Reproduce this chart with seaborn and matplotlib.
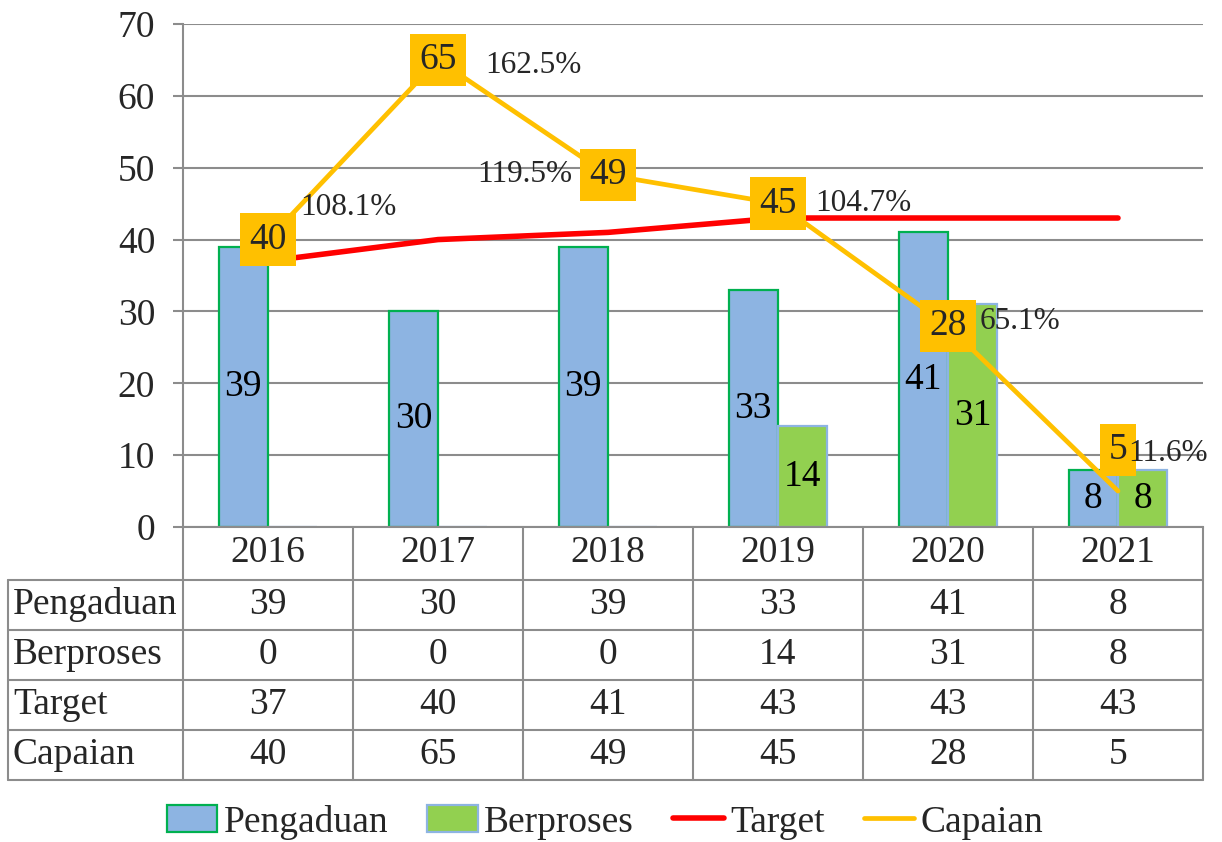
import seaborn as sns
import pandas as pd
import numpy as np
import matplotlib
matplotlib.use("Agg")
import matplotlib.pyplot as plt
from matplotlib.lines import Line2D
from matplotlib.patches import Patch
import matplotlib.transforms as mtransforms

# data
years = ["2016", "2017", "2018", "2019", "2020", "2021"]
pengaduan = [39, 30, 39, 33, 41, 8]
berproses = [0, 0, 0, 14, 31, 8]
target = [37, 40, 41, 43, 43, 43]
capaian = [40, 65, 49, 45, 28, 5]
series_names = ["Pengaduan", "Berproses", "Target", "Capaian"]

# styling
c_peng = "#8DB4E2"
c_berp = "#92D050"
c_edge = "#00B050"
c_target = "#FF0000"
c_capaian = "#FFC000"
c_grid = "#8C8C8C"
fs = 27
fs_pct = 22.5

# label offsets in pixels (dx, dy) for the capaian boxes and percentage labels
box_off = [(0, 0), (0, 0), (0, 0), (0, 0), (0, 0), (0, 41)]
pct_off = [(32, 32, "left"), (47, -6, "left"), (-36, 0, "right"),
           (37, 0, "left"), (32, 4, "left"), (10, 38, "left")]

sns.set_theme(style="white")
plt.rcParams['font.family'] = ['Liberation Serif', 'DejaVu Serif']

W, H = 1222, 842
fig = plt.figure(figsize=(W / 100, H / 100), dpi=100)


def fx(px):
    return px / W


def fy(py):
    return 1 - py / H


ax = fig.add_axes([fx(183), fy(527), fx(1203) - fx(183), fy(24) - fy(527)])

df = pd.DataFrame({
    "Tahun": years * 2,
    "Kategori": ["Pengaduan"] * 6 + ["Berproses"] * 6,
    "Nilai": pengaduan + berproses,
})
sns.barplot(data=df, x="Tahun", y="Nilai", hue="Kategori", palette=[c_peng, c_berp],
            width=0.58, ax=ax, legend=False, saturation=1, zorder=2)

edges = [c_edge, c_peng]
for cont, ec, vals in zip(ax.containers, edges, [pengaduan, berproses]):
    for p in cont.patches:
        p.set_edgecolor(ec)
        p.set_linewidth(1.6)
    ax.bar_label(cont, labels=[str(v) if v else "" for v in vals], label_type="center",
                 fontsize=fs, color="black")

x = np.arange(len(years))
sns.lineplot(x=x, y=target, color=c_target, linewidth=4.0, ax=ax, zorder=3,
             solid_capstyle="round")
sns.lineplot(x=x, y=capaian, color=c_capaian, linewidth=3.4, ax=ax, zorder=4,
             solid_capstyle="round")

for i, (c, t) in enumerate(zip(capaian, target)):
    ax.annotate(str(c), (i, c), xytext=box_off[i], textcoords="offset pixels",
                ha="center", va="center", fontsize=fs, zorder=6,
                bbox=dict(boxstyle="square,pad=0.24", facecolor=c_capaian, edgecolor="none"))
    dx, dy, ha = pct_off[i]
    ax.annotate(f"{c / t * 100:.1f}%", (i, c), xytext=(dx, dy), textcoords="offset pixels",
                ha=ha, va="center", fontsize=fs_pct, zorder=6)

ax.set_xlim(-0.5, len(years) - 0.5)
ax.set_ylim(0, 70)
ax.set_yticks(range(0, 80, 10))
ax.set_xticks([])
ax.set_xlabel("")
ax.set_ylabel("")
ax.tick_params(axis="y", labelsize=fs, length=7, width=1.5, color=c_grid, pad=13, left=True)
ax.yaxis.grid(True, color=c_grid, linewidth=1.5)
ax.set_axisbelow(True)
for s in ["top", "right"]:
    ax.spines[s].set_visible(False)
for s in ["left", "bottom"]:
    ax.spines[s].set_color(c_grid)
    ax.spines[s].set_linewidth(1.5)

# data table under the axis
blend = mtransforms.blended_transform_factory(ax.transData, fig.transFigure)
row_tops = [580, 630, 680, 730, 780]
lkw = dict(color=c_grid, linewidth=1.5)
for py in row_tops:
    fig.add_artist(Line2D([fx(8), fx(1203)], [fy(py), fy(py)], transform=fig.transFigure, **lkw))
fig.add_artist(Line2D([fx(8), fx(8)], [fy(580), fy(780)], transform=fig.transFigure, **lkw))
for b in np.arange(-0.5, len(years), 1.0):
    fig.add_artist(Line2D([b, b], [fy(527), fy(780)], transform=blend, **lkw))

for i, yr in enumerate(years):
    fig.text(i, fy(553), yr, transform=blend, ha="center", va="center", fontsize=fs)

rows = [pengaduan, berproses, target, capaian]
for r, (name, vals) in enumerate(zip(series_names, rows)):
    yc = fy((row_tops[r] + row_tops[r + 1]) / 2)
    fig.text(fx(13), yc, name, ha="left", va="center", fontsize=fs)
    for i, v in enumerate(vals):
        fig.text(i, yc, str(v), transform=blend, ha="center", va="center", fontsize=fs)

handles = [
    Patch(facecolor=c_peng, edgecolor=c_edge, linewidth=1.6),
    Patch(facecolor=c_berp, edgecolor=c_peng, linewidth=1.6),
    Line2D([], [], color=c_target, linewidth=4.0, solid_capstyle="round"),
    Line2D([], [], color=c_capaian, linewidth=3.4, solid_capstyle="round"),
]
fig.legend(handles, series_names, loc="center", bbox_to_anchor=(fx(605), fy(822)), ncol=4,
           frameon=False, fontsize=fs, handlelength=1.35, handletextpad=0.16,
           columnspacing=1.05, borderaxespad=0)

fig.savefig("out.png", dpi=100)
